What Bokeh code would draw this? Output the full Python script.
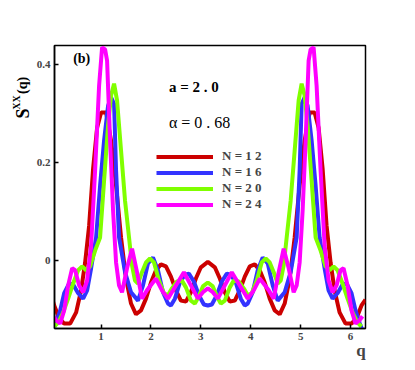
import math
from bokeh.plotting import figure
from bokeh.layouts import row
from bokeh.models import Label, FixedTicker, Range1d, LinearAxis
from bokeh.embed import file_html
from bokeh.resources import INLINE

# ---- data ----
q12 = [0.04, 0.06, 0.16, 0.26, 0.38, 0.50, 0.60, 0.68, 0.76, 0.84, 0.92, 1.00, 1.10, 1.20, 1.30, 1.40, 1.50,
       1.60, 1.70, 1.80, 1.90, 2.00, 2.10, 2.20, 2.30, 2.40, 2.50, 2.60, 2.70, 2.80, 2.90, 3.00, 3.14,
       3.28, 3.38, 3.48, 3.58, 3.68, 3.78, 3.88, 3.98, 4.08, 4.18, 4.28, 4.38, 4.48, 4.58, 4.68, 4.78,
       4.88, 4.98, 5.08, 5.18, 5.28, 5.36, 5.44, 5.52, 5.60, 5.68, 5.78, 5.90, 6.02, 6.12, 6.22, 6.30]
s12 = [-0.085, -0.092, -0.118, -0.129, -0.129, -0.106, -0.061, -0.004, 0.071, 0.188, 0.271, 0.302, 0.302,
       0.245, 0.153, 0.047, -0.037, -0.088, -0.110, -0.102, -0.078, -0.045, -0.020, -0.008, -0.012, -0.033,
       -0.061, -0.082, -0.084, -0.065, -0.037, -0.014, -0.003,
       -0.014, -0.037, -0.065, -0.084, -0.082, -0.061, -0.033, -0.012, -0.008, -0.020, -0.045, -0.078,
       -0.102, -0.110, -0.088, -0.037, 0.047, 0.153, 0.245, 0.302, 0.302, 0.271, 0.188, 0.071, -0.004,
       -0.061, -0.106, -0.129, -0.129, -0.118, -0.092, -0.080]

q16 = [0.04, 0.10, 0.18, 0.26, 0.36, 0.44, 0.54, 0.64, 0.72, 0.80, 0.90, 0.98, 1.06, 1.14, 1.20, 1.26, 1.30,
       1.36, 1.48, 1.60, 1.74, 1.84, 1.94, 2.04, 2.14, 2.24, 2.34, 2.40, 2.48, 2.58, 2.68, 2.76, 2.86, 2.96,
       3.06, 3.14, 3.22, 3.32, 3.42, 3.52, 3.60, 3.70, 3.80, 3.88, 3.94, 4.04, 4.14, 4.24, 4.34, 4.44,
       4.54, 4.68, 4.80, 4.92, 4.98, 5.02, 5.08, 5.14, 5.22, 5.30, 5.38, 5.48, 5.56, 5.64, 5.74, 5.84,
       5.92, 6.02, 6.10, 6.18, 6.24]
s16 = [-0.143, -0.127, -0.102, -0.067, -0.047, -0.049, -0.067, -0.078, -0.061, -0.016, 0.047, 0.153, 0.245,
       0.316, 0.333, 0.320, 0.184, 0.047, -0.024, -0.065, -0.082, -0.051, -0.006, 0.006, -0.020, -0.065,
       -0.088, -0.092, -0.078, -0.045, -0.029, -0.027, -0.043, -0.071, -0.090, -0.092,
       -0.090, -0.071, -0.043, -0.027, -0.029, -0.045, -0.078, -0.092, -0.088, -0.065, -0.020, 0.006,
       -0.006, -0.051, -0.082, -0.065, -0.024, 0.047, 0.184, 0.320, 0.333, 0.316, 0.245, 0.153, 0.047,
       -0.016, -0.061, -0.078, -0.067, -0.049, -0.047, -0.067, -0.102, -0.127, -0.143]

q20 = [0.06, 0.14, 0.24, 0.34, 0.44, 0.54, 0.62, 0.70, 0.78, 0.88, 0.98, 1.06, 1.14, 1.20, 1.26, 1.32, 1.40,
       1.48, 1.56, 1.62, 1.68, 1.74, 1.82, 1.90, 1.98, 2.06, 2.16, 2.26, 2.34, 2.42, 2.52, 2.62, 2.70, 2.80,
       2.88, 2.96, 3.04, 3.14, 3.24, 3.32, 3.40, 3.48, 3.58, 3.66, 3.76, 3.86, 3.94, 4.02, 4.12, 4.22,
       4.30, 4.38, 4.46, 4.54, 4.60, 4.66, 4.72, 4.80, 4.88, 4.96, 5.02, 5.08, 5.14, 5.22, 5.30, 5.40,
       5.50, 5.58, 5.66, 5.74, 5.84, 5.94, 6.04, 6.14, 6.22]
s20 = [-0.135, -0.127, -0.106, -0.078, -0.047, -0.020, -0.012, -0.020, -0.012, 0.020, 0.047, 0.163, 0.276,
       0.337, 0.361, 0.327, 0.224, 0.122, 0.047, -0.010, -0.041, -0.047, -0.024, -0.004, 0.004, -0.004,
       -0.041, -0.067, -0.071, -0.057, -0.043, -0.041, -0.055, -0.082, -0.088, -0.073, -0.053, -0.045,
       -0.053, -0.073, -0.088, -0.082, -0.055, -0.041, -0.043, -0.057, -0.071, -0.067, -0.041, -0.004,
       0.004, -0.004, -0.024, -0.047, -0.041, -0.010, 0.047, 0.122, 0.224, 0.327, 0.361, 0.337, 0.276,
       0.163, 0.047, 0.020, -0.012, -0.020, -0.012, -0.020, -0.047, -0.078, -0.106, -0.127, -0.135]

q24 = [0.04, 0.10, 0.18, 0.26, 0.34, 0.42, 0.48, 0.56, 0.64, 0.72, 0.80, 0.88, 0.96, 1.02, 1.08, 1.12, 1.18,
       1.24, 1.30, 1.36, 1.42, 1.52, 1.62, 1.72, 1.82, 1.92, 2.10, 2.22, 2.34, 2.50, 2.66, 2.80, 2.94, 3.04,
       3.14, 3.24, 3.34, 3.48, 3.62, 3.78, 3.94, 4.06, 4.18, 4.36, 4.46, 4.56, 4.66, 4.76, 4.86, 4.92,
       4.98, 5.04, 5.10, 5.16, 5.20, 5.26, 5.32, 5.40, 5.48, 5.56, 5.64, 5.72, 5.80, 5.86, 5.94, 6.02,
       6.10, 6.18, 6.24]
s24 = [-0.114, -0.122, -0.129, -0.102, -0.051, -0.016, -0.020, -0.051, -0.065, -0.041, 0.031, 0.184, 0.357,
       0.435, 0.431, 0.408, 0.245, 0.102, -0.004, -0.051, -0.065, -0.016, 0.024, -0.024, -0.078, -0.061,
       -0.037, -0.061, -0.078, -0.051, -0.024, -0.051, -0.078, -0.065, -0.057,
       -0.065, -0.078, -0.051, -0.024, -0.051, -0.078, -0.061, -0.037, -0.061, -0.078, -0.024, 0.024,
       -0.016, -0.065, -0.051, -0.004, 0.102, 0.245, 0.408, 0.431, 0.435, 0.357, 0.184, 0.031, -0.041,
       -0.065, -0.051, -0.020, -0.016, -0.051, -0.102, -0.129, -0.122, -0.114]

series_labels = ["N = 1 2", "N = 1 6", "N = 2 0", "N = 2 4"]
series_colors = ["#CC0000", "#3333FF", "#80FF00", "#FF00FF"]
x_ticks = [1, 2, 3, 4, 5, 6]
y_ticks = [0, 0.2, 0.4]
y_tick_labels = ["0", "0.2", "0.4"]
x_title_pos = 6.21

SERIF = "Liberation Serif"
LEFT_W = 33
TOTAL_H = 361

p = figure(frame_width=311, frame_height=283, output_backend="svg", toolbar_location=None,
           x_range=Range1d(0.066, 6.30), y_range=Range1d(-0.139, 0.439),
           min_border_left=20, min_border_top=45, min_border_right=30, min_border_bottom=33)
p.grid.visible = False
p.background_fill_color = "white"
p.border_fill_color = "white"
p.outline_line_color = "black"
p.outline_line_width = 1.5

for xs, ys, lab_, col in zip([q12, q16, q20, q24], [s12, s16, s20, s24], series_labels, series_colors):
    p.line(xs, ys, line_color=col, line_width=4, legend_label=lab_)

for ax in (p.xaxis[0], p.yaxis[0]):
    ax.axis_line_width = 1.5
    ax.major_tick_in = 4
    ax.major_tick_out = 0
    ax.major_tick_line_width = 1.5
    ax.minor_tick_line_color = None
    ax.major_label_text_font = SERIF
    ax.major_label_text_font_style = "bold"
    ax.major_label_text_font_size = "11px"
    ax.major_label_standoff = 4
p.xaxis[0].ticker = FixedTicker(ticks=x_ticks)
p.yaxis[0].ticker = FixedTicker(ticks=y_ticks)
p.yaxis[0].major_label_overrides = {t: s for t, s in zip(y_ticks, y_tick_labels)}

# x-axis title "q" at the right end, as a second (label-only) axis below
qax = LinearAxis(ticker=FixedTicker(ticks=[x_title_pos]), major_label_overrides={x_title_pos: "q"},
                 axis_line_color=None, major_tick_line_color=None, minor_tick_line_color=None,
                 major_label_text_font=SERIF, major_label_text_font_style="bold",
                 major_label_text_font_size="17px", major_label_standoff=-8)
p.add_layout(qax, "below")

lg = p.legend[0]
lg.location = (102, 116)
lg.glyph_width = 57
lg.glyph_height = 13
lg.label_height = 13
lg.spacing = 0
lg.padding = 0
lg.margin = 0
lg.label_standoff = 9
lg.border_line_color = None
lg.background_fill_alpha = 0
lg.label_text_font = SERIF
lg.label_text_font_style = "bold"
lg.label_text_font_size = "13px"

def lab(fig, x, y, t, size, style="bold", angle=0.0, align="left"):
    fig.add_layout(Label(x=x, y=y, text=t, text_font=SERIF, text_font_style=style,
                         text_font_size=size, angle=angle, text_align=align,
                         text_baseline="middle", text_color="black"))

lab(p, 0.44, 0.412, "(b)", "14px")
lab(p, 2.36, 0.355, "a = 2 . 0", "15px")
lab(p, 2.36, 0.282, "\u03b1 = 0 . 68", "16px", style="normal")

# left strip holding the rotated y-axis title S^XX (q); coordinates are pixels from the top-left
yl = figure(width=LEFT_W, height=TOTAL_H, output_backend="svg", toolbar_location=None,
            x_range=Range1d(0, LEFT_W), y_range=Range1d(TOTAL_H, 0),
            x_axis_type=None, y_axis_type=None,
            min_border_left=0, min_border_right=0, min_border_top=0, min_border_bottom=0)
yl.grid.visible = False
yl.outline_line_color = None
yl.border_fill_color = "white"
yl.background_fill_color = "white"
lab(yl, 22, 87, "S", "18px", angle=math.pi / 2, align="center")
lab(yl, 15.5, 73, "XX", "10px", angle=math.pi / 2, align="center")
lab(yl, 22, 51, "(q)", "14px", angle=math.pi / 2, align="center")

layout = row(yl, p, spacing=0)
open("out.html", "w").write(file_html(layout, INLINE))
